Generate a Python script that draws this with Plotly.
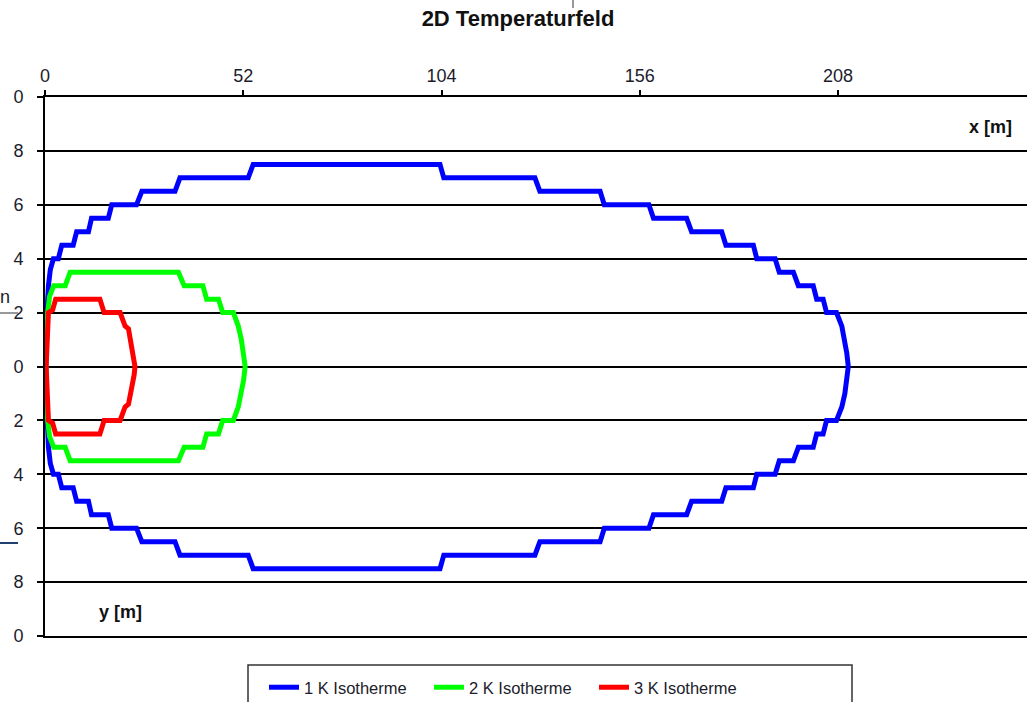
import plotly.graph_objects as go

# ---- data ----
x_ticks = [0, 52, 104, 156, 208]
y_ticks = [10, 8, 6, 4, 2, 0, -2, -4, -6, -8, -10]
y_tick_text = ["0", "8", "6", "4", "2", "0", "2", "4", "6", "8", "0"]

series_names = ["1 K Isotherme", "2 K Isotherme", "3 K Isotherme"]
series_colors = ["#0000FF", "#00FF00", "#FF0000"]

iso1_x = [0.2, 0.3, 0.5, 0.9, 1.4, 2.2, 3.5, 4.4, 7.4, 8.3, 11.4, 12.2, 16.6, 17.5, 24.0, 25.4,
          34.1, 35.4, 53.3, 54.6, 103.6, 104.6, 128.5, 129.8, 145.6, 146.7, 158.4, 159.6,
          168.3, 169.6, 177.5, 178.6, 185.8, 186.7, 191.5, 192.6, 196.3, 197.6, 201.5, 202.4,
          204.1, 205.0, 207.6, 209.0, 209.8, 210.3, 210.7,
          210.3, 209.8, 209.0, 207.6, 205.0, 204.1, 202.4, 201.5, 197.6, 196.3, 192.6, 191.5,
          186.7, 185.8, 178.6, 177.5, 169.6, 168.3, 159.6, 158.4, 146.7, 145.6, 129.8, 128.5,
          104.6, 103.6, 54.6, 53.3, 35.4, 34.1, 25.4, 24.0, 17.5, 16.6, 12.2, 11.4, 8.3, 7.4,
          4.4, 3.5, 2.2, 1.4, 0.9, 0.5, 0.3, 0.2]
iso1_y = [0.0, 1.0, 2.0, 3.0, 3.6, 4.0, 4.0, 4.5, 4.5, 5.0, 5.0, 5.5, 5.5, 6.0, 6.0, 6.5,
          6.5, 7.0, 7.0, 7.5, 7.5, 7.0, 7.0, 6.5, 6.5, 6.0, 6.0, 5.5,
          5.5, 5.0, 5.0, 4.5, 4.5, 4.0, 4.0, 3.5, 3.5, 3.0, 3.0, 2.5,
          2.5, 2.0, 2.0, 1.5, 1.0, 0.5, 0.0,
          -0.5, -1.0, -1.5, -2.0, -2.0, -2.5, -2.5, -3.0, -3.0, -3.5, -3.5, -4.0,
          -4.0, -4.5, -4.5, -5.0, -5.0, -5.5, -5.5, -6.0, -6.0, -6.5, -6.5, -7.0,
          -7.0, -7.5, -7.5, -7.0, -7.0, -6.5, -6.5, -6.0, -6.0, -5.5, -5.5, -5.0, -5.0, -4.5,
          -4.5, -4.0, -4.0, -3.6, -3.0, -2.0, -1.0, 0.0]

iso2_x = [0.2, 0.4, 0.7, 1.2, 2.3, 5.3, 6.6, 35.0, 36.5, 41.4, 42.4, 45.5, 46.6, 49.4, 50.7,
          51.5, 52.1, 52.5,
          52.1, 51.5, 50.7, 49.4, 46.6, 45.5, 42.4, 41.4, 36.5, 35.0, 6.6, 5.3, 2.3, 1.2,
          0.7, 0.4, 0.2]
iso2_y = [0.0, 1.0, 2.0, 2.6, 3.0, 3.0, 3.5, 3.5, 3.0, 3.0, 2.5, 2.5, 2.0, 2.0, 1.5,
          1.0, 0.5, 0.0,
          -0.5, -1.0, -1.5, -2.0, -2.0, -2.5, -2.5, -3.0, -3.0, -3.5, -3.5, -3.0, -3.0, -2.6,
          -2.0, -1.0, 0.0]

iso3_x = [0.3, 0.5, 0.9, 2.0, 2.8, 14.4, 15.5, 19.7, 21.0, 21.9, 22.7, 23.4, 23.6,
          23.4, 22.7, 21.9, 21.0, 19.7, 15.5, 14.4, 2.8, 2.0, 0.9, 0.5, 0.3]
iso3_y = [0.0, 1.0, 2.0, 2.1, 2.5, 2.5, 2.0, 2.0, 1.5, 1.4, 0.8, 0.3, 0.0,
          -0.3, -0.8, -1.4, -1.5, -2.0, -2.0, -2.5, -2.5, -2.1, -2.0, -1.0, 0.0]

all_x = [iso1_x, iso2_x, iso3_x]
all_y = [iso1_y, iso2_y, iso3_y]

# ---- figure ----
W, H = 1027, 702
ML, MR, MT, MB = 45, 0, 97, 66
PW, PH = W - ML - MR, H - MT - MB

def px(xp):
    return (xp - ML) / PW

def py(yp):
    return (H - MB - yp) / PH

fig = go.Figure()
for xs, ys, name, col in zip(all_x, all_y, series_names, series_colors):
    fig.add_trace(go.Scatter(x=xs, y=ys, mode="lines", name=name,
                             line=dict(color=col, width=5)))

font_main = "Liberation Sans, Arial, sans-serif"
txt_col = "#1c1c2c"

fig.update_layout(
    width=W, height=H,
    margin=dict(l=ML, r=MR, t=MT, b=MB, autoexpand=False),
    paper_bgcolor="white", plot_bgcolor="white",
    font=dict(family=font_main, size=16, color=txt_col),
    title=dict(text="<b>2D Temperaturfeld</b>", x=518 / W, xanchor="center",
               y=1 - 18 / H, yanchor="middle", xref="container", yref="container",
               font=dict(size=22, color="#111")),
    xaxis=dict(side="top", range=[0, PW / 3.8125], tickvals=x_ticks,
               showgrid=False, zeroline=False, showline=True, mirror=True,
               linecolor="black", linewidth=2, ticks="outside", ticklen=5,
               tickcolor="black", tickwidth=1.5, ticklabelstandoff=1,
               tickfont=dict(size=18)),
    yaxis=dict(range=[-10, 10], tickvals=y_ticks, ticktext=y_tick_text,
               showgrid=True, gridcolor="black", gridwidth=1.6, zeroline=False,
               showline=True, linecolor="black", linewidth=2, ticks="outside",
               ticklen=6, tickcolor="black", tickwidth=1.5,
               ticklabelstandoff=10, tickfont=dict(size=18)),
    legend=dict(orientation="h", x=px(264), xanchor="left", y=py(670), yanchor="top",
                borderwidth=0, bgcolor="rgba(0,0,0,0)",
                font=dict(size=16.5, color=txt_col), entrywidth=120, entrywidthmode="pixels"),
    showlegend=True,
)

# legend frame
fig.add_shape(type="rect", xref="paper", yref="paper", x0=px(248), x1=px(852),
              y0=py(665), y1=py(730), line=dict(color="#333", width=1.5),
              fillcolor="rgba(0,0,0,0)", layer="below")

fig.add_annotation(text="<b>x [m]</b>", x=px(990), y=py(127), xref="paper", yref="paper",
                   xanchor="center", yanchor="middle",
                   showarrow=False, font=dict(size=18, color="#111"))
fig.add_annotation(text="<b>y [m]</b>", x=px(120), y=py(612), xref="paper", yref="paper",
                   xanchor="center", yanchor="middle",
                   showarrow=False, font=dict(size=18, color="#111"))
fig.add_annotation(text="n", x=px(5), y=py(297), xref="paper", yref="paper",
                   xanchor="center", yanchor="middle",
                   showarrow=False, font=dict(size=18, color=txt_col))

fig.add_shape(type="line", xref="paper", yref="paper", x0=px(0), x1=px(18),
              y0=py(313), y1=py(313), line=dict(color="#999", width=2))
fig.add_shape(type="line", xref="paper", yref="paper", x0=px(0), x1=px(18),
              y0=py(543), y1=py(543), line=dict(color="#1f3f6f", width=2))
fig.add_shape(type="line", xref="paper", yref="paper", x0=px(573), x1=px(573),
              y0=py(0), y1=py(8), line=dict(color="#999", width=2))

fig.write_html("out.html", config={"displayModeBar": False},
               post_script="document.body.style.margin='0px';")
